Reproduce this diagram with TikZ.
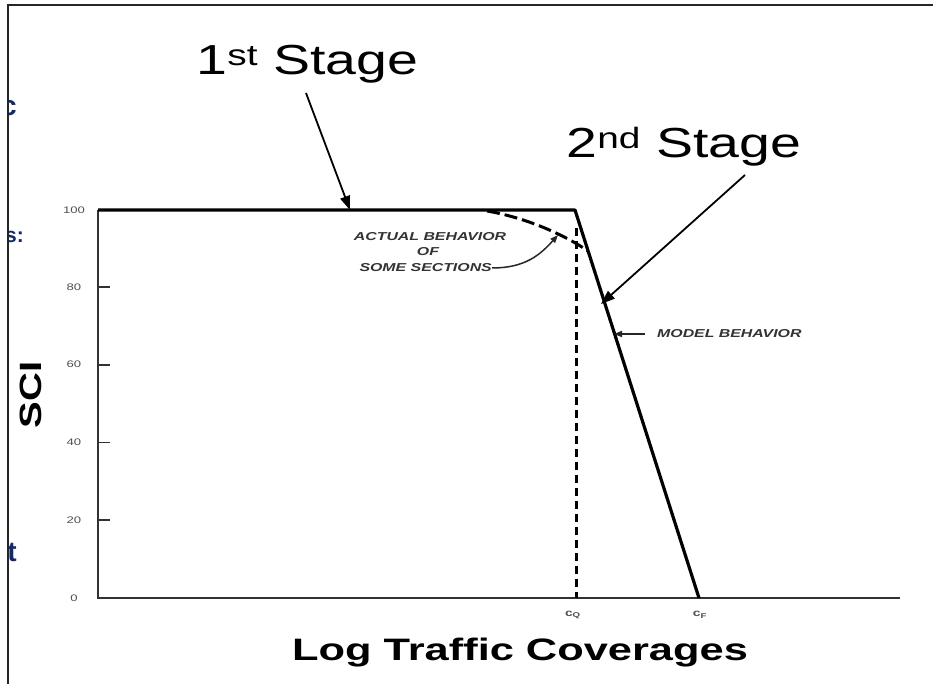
\documentclass[tikz,border=0pt]{standalone}
\usepackage{fontspec}
\setmainfont{Liberation Sans}
\usepackage{graphicx}
\usetikzlibrary{arrows.meta}
\definecolor{axisgray}{RGB}{50,50,50}
\definecolor{lblgray}{RGB}{80,80,80}
\definecolor{slideblue}{RGB}{20,40,110}
\newcommand{\myfs}[1]{\fontsize{#1}{#1}\selectfont}
\newcommand{\wide}[2][1.38]{\scalebox{#1}[1]{#2}}
\begin{document}
\begin{tikzpicture}[x=1pt,y=-1pt,
  frameline/.style={line width=2.4pt, black!85},
  axisline/.style={line width=2.4pt, axisgray},
  plotline/.style={line width=3.2pt, black, line join=round},
  dashvert/.style={line width=3pt, black, dash pattern=on 8pt off 5pt},
  dashcurve/.style={line width=3pt, black, dash pattern=on 13pt off 5pt},
  leader/.style={line width=1.8pt, black, -{Triangle[length=14pt,width=10pt]}},
  smallleader/.style={line width=1.5pt, black!85, -{Triangle[length=8pt,width=6pt]}},
  ticklbl/.style={text=lblgray, inner sep=0pt, font=\myfs{9.5}},
  note/.style={text=black!80, inner sep=0pt, font=\myfs{11.5}\bfseries\itshape},
  stagelbl/.style={inner sep=0pt, anchor=base, font=\myfs{42}},
  axislbl/.style={inner sep=0pt, font=\myfs{31}\bfseries},
  frag/.style={inner sep=0pt, text=slideblue, anchor=east},
  ]
\useasboundingbox (0,0) rectangle (933,684);
\fill[white] (0,0) rectangle (933,684);

% slide fragments at the left edge
\begin{scope}
  \clip (9,0) rectangle (45,684);
  \node[frag, font=\myfs{28}\bfseries] (fragc) at (17,108) {c};
  \node[frag, font=\myfs{21}\bfseries] (frags) at (24,237) {s:};
  \node[frag, font=\myfs{28}\bfseries] (fragt) at (17,552) {t};
\end{scope}

% frame
\coordinate (ftl) at (8,5);
\coordinate (ftr) at (933,5);
\coordinate (fbl) at (8,684);
\draw[frameline] (fbl) -- (ftl) -- (ftr);

% axes
\coordinate (o) at (98,598);
\coordinate (ytop) at (98,210);
\coordinate (xend) at (900,598);
\draw[axisline] (ytop) -- (o) -- (xend);

% ticks and tick labels
\foreach \v/\yy in {0/598,20/520.2,40/442.4,60/364.6,80/286.8,100/210}{
  \node[ticklbl] (t\v) at (74,\yy) {\wide{\v}};
}
\foreach \yy/\nm in {520.2/a,442.4/b,364.6/c,286.8/d}{
  \coordinate (tk\nm) at (98,\yy);
  \coordinate (tke\nm) at (110,\yy);
  \draw[axisline, line width=1.8pt] (tk\nm) -- (tke\nm);
}

% model behaviour
\coordinate (knee) at (575,210);
\coordinate (cf) at (699,598);
\coordinate (cq) at (576,598);
\coordinate (cqtop) at (576,228);
\draw[plotline] (ytop) -- (knee) -- (cf);
\draw[dashvert] (cqtop) -- (cq);

% actual behaviour of some sections
\coordinate (acs) at (487,211);
\coordinate (ace) at (588,251);
\draw[dashcurve] (acs) .. controls (522,217) and (560,232) .. (ace);

% axis labels
\node[ticklbl, font=\myfs{10}\bfseries] (lcq) at (573,615) {\wide{c\textsubscript{Q}}};
\node[ticklbl, font=\myfs{10}\bfseries] (lcf) at (700,615) {\wide{c\textsubscript{F}}};
\node[axislbl, anchor=base] (xl) at (520,660) {\wide[1.4]{Log Traffic Coverages}};
\node[axislbl, font=\myfs{40}\bfseries, rotate=90] (yl) at (31,395) {\scalebox{1}[0.77]{SCI}};

% notes
\node[note] (act1) at (430,237) {\wide{ACTUAL BEHAVIOR}};
\node[note] (act2) at (428,252) {\wide{OF}};
\node[note, anchor=east] (act3) at (492,268) {\wide{SOME SECTIONS}};
\coordinate (acttip) at (558,235);
\draw[smallleader] (act3.east) .. controls (525,268) and (540,255) .. (acttip);

\node[note, anchor=west] (model) at (657,334) {\wide{MODEL BEHAVIOR}};
\coordinate (modtip) at (614,334);
\draw[smallleader] ([xshift=-12pt]model.west) -- (modtip);

% stage labels
\node[stagelbl] (s1) at (307.5,75) {\wide[1.32]{1\textsuperscript{st} Stage}};
\node[stagelbl] (s2) at (684,158) {\wide[1.32]{2\textsuperscript{nd} Stage}};
\coordinate (s1a) at (306,93);
\coordinate (s1b) at (350,210);
\coordinate (s2a) at (745,175);
\coordinate (s2b) at (601,304);
\draw[leader] (s1a) -- (s1b);
\draw[leader] (s2a) -- (s2b);
\end{tikzpicture}
\end{document}
